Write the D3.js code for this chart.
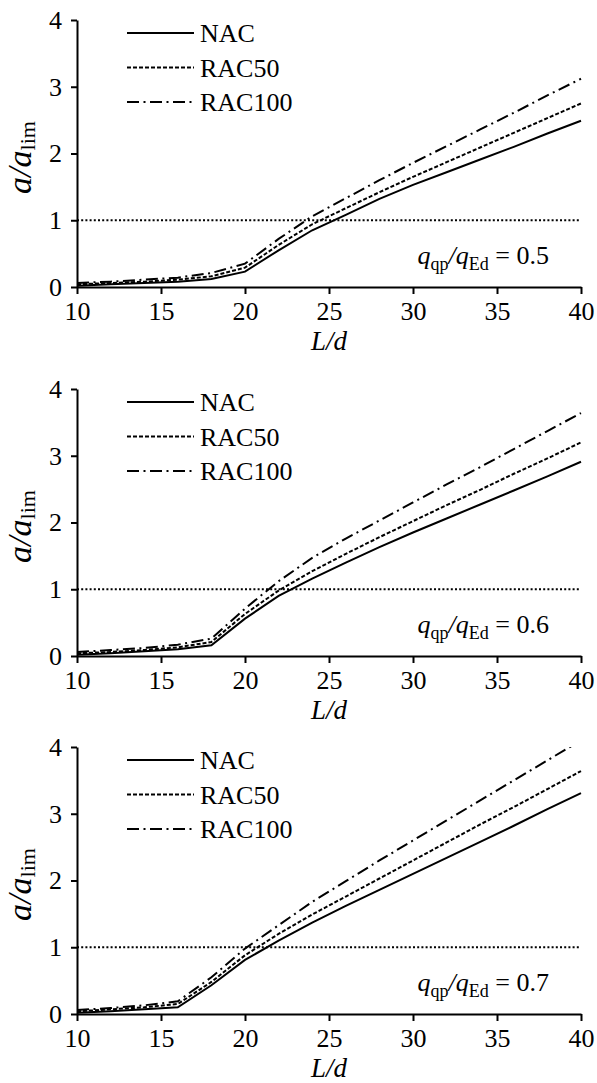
<!DOCTYPE html>
<html>
<head>
<meta charset="utf-8">
<script src="https://cdn.jsdelivr.net/npm/d3@7"></script>
<style>
  body { margin: 0; background: #fff; }
  svg text { font-family: "Liberation Serif", "Times New Roman", serif; fill: #000; }
</style>
</head>
<body>
<svg id="chart" width="597" height="1083"></svg>
<script>
// L/d values (x axis)
const ldValues = [10, 12, 14, 16, 18, 20, 22, 24, 26, 28, 30, 32, 34, 36, 38, 40];

// q_qp/q_Ed = 0.5
const nac05 = [0.02, 0.04, 0.06, 0.08, 0.12, 0.23, 0.55, 0.85, 1.08, 1.32, 1.53, 1.72, 1.91, 2.10, 2.30, 2.49];
const rac50_05 = [0.04, 0.06, 0.08, 0.11, 0.16, 0.29, 0.63, 0.94, 1.18, 1.42, 1.65, 1.87, 2.09, 2.31, 2.53, 2.75];
const rac100_05 = [0.06, 0.08, 0.11, 0.14, 0.21, 0.35, 0.72, 1.06, 1.33, 1.60, 1.86, 2.11, 2.36, 2.61, 2.87, 3.12];

// q_qp/q_Ed = 0.6
const nac06 = [0.02, 0.04, 0.07, 0.10, 0.16, 0.56, 0.90, 1.16, 1.40, 1.63, 1.85, 2.06, 2.27, 2.48, 2.69, 2.91];
const rac50_06 = [0.04, 0.06, 0.09, 0.13, 0.21, 0.63, 0.98, 1.27, 1.53, 1.78, 2.02, 2.26, 2.49, 2.73, 2.96, 3.20];
const rac100_06 = [0.06, 0.09, 0.12, 0.17, 0.26, 0.71, 1.12, 1.47, 1.76, 2.03, 2.30, 2.57, 2.83, 3.10, 3.37, 3.64];

// q_qp/q_Ed = 0.7
const nac07 = [0.02, 0.04, 0.07, 0.10, 0.43, 0.81, 1.10, 1.37, 1.62, 1.86, 2.10, 2.34, 2.58, 2.82, 3.07, 3.31];
const rac50_07 = [0.04, 0.07, 0.10, 0.15, 0.48, 0.88, 1.20, 1.49, 1.76, 2.03, 2.30, 2.57, 2.84, 3.10, 3.37, 3.64];
const rac100_07 = [0.06, 0.09, 0.13, 0.19, 0.55, 0.98, 1.33, 1.68, 1.99, 2.30, 2.60, 2.90, 3.20, 3.50, 3.80, 4.10];

const seriesNames = ["NAC", "RAC50", "RAC100"];
const ratioLabels = ["0.5", "0.6", "0.7"];
const xTicks = [10, 15, 20, 25, 30, 35, 40];
const yTicks = [0, 1, 2, 3, 4];
const limitValue = 1;

const panels = [
  { ratio: ratioLabels[0], series: [nac05, rac50_05, rac100_05], top: 20 },
  { ratio: ratioLabels[1], series: [nac06, rac50_06, rac100_06], top: 389 },
  { ratio: ratioLabels[2], series: [nac07, rac50_07, rac100_07], top: 747 }
];

const dashes = ["none", "4,2", "12,4.5,2,4.5"];

const svg = d3.select("svg#chart");
const left = 77, right = 581, plotHeight = 267;

const x = d3.scaleLinear().domain([10, 40]).range([left, right]);

panels.forEach((p, pi) => {
  const y = d3.scaleLinear().domain([0, 4]).range([p.top + plotHeight, p.top]);
  const g = svg.append("g").attr("class", "panel");

  // clip so lines stop at the top of the axis
  g.append("clipPath")
    .attr("id", "clip" + pi)
    .append("rect")
    .attr("x", left)
    .attr("y", p.top)
    .attr("width", right - left + 2)
    .attr("height", plotHeight + 2);

  // limit line a/alim = 1
  g.append("line")
    .attr("x1", x(10))
    .attr("x2", x(40))
    .attr("y1", y(limitValue))
    .attr("y2", y(limitValue))
    .attr("stroke", "#000")
    .attr("stroke-width", 2)
    .attr("stroke-dasharray", "2,2.2");

  const line = d3.line()
    .x((d, i) => x(ldValues[i]))
    .y((d) => y(d));

  p.series.forEach((s, si) => {
    g.append("path")
      .datum(s)
      .attr("d", line)
      .attr("fill", "none")
      .attr("stroke", "#000")
      .attr("stroke-width", 2)
      .attr("stroke-dasharray", dashes[si])
      .attr("clip-path", "url(#clip" + pi + ")");
  });

  // x axis
  const xAxis = g.append("g")
    .attr("transform", `translate(0,${y(0)})`)
    .call(d3.axisBottom(x).tickValues(xTicks).tickSize(7).tickSizeOuter(0).tickPadding(8));
  xAxis.selectAll("text").style("font-size", "26px").attr("dy", "0.71em");

  // y axis
  const yAxis = g.append("g")
    .attr("transform", `translate(${left},0)`)
    .call(d3.axisLeft(y).tickValues(yTicks).tickFormat(d3.format("d")).tickSize(6).tickSizeOuter(0).tickPadding(9));
  yAxis.selectAll("text").style("font-size", "26px");

  [xAxis, yAxis].forEach((a) => {
    a.select(".domain").attr("stroke-width", 2);
    a.selectAll(".tick line").attr("stroke-width", 2);
    a.attr("font-family", null);
  });

  // axis titles
  g.append("text")
    .attr("x", (left + right) / 2)
    .attr("y", y(0) + 63)
    .attr("text-anchor", "middle")
    .style("font-size", "27px")
    .style("font-style", "italic")
    .text("L/d");

  const yTitle = g.append("text")
    .attr("transform", `translate(31,${p.top + plotHeight / 2 + 4}) rotate(-90)`)
    .attr("text-anchor", "middle")
    .style("font-size", "34px");
  yTitle.append("tspan").style("font-style", "italic").text("a/a");
  yTitle.append("tspan").attr("dy", 4).style("font-size", "22px").text("lim");

  // legend
  seriesNames.forEach((name, si) => {
    const ly = p.top + 13 + si * 34.5;
    g.append("line")
      .attr("x1", 127)
      .attr("x2", 194)
      .attr("y1", ly)
      .attr("y2", ly)
      .attr("stroke", "#000")
      .attr("stroke-width", 2)
      .attr("stroke-dasharray", dashes[si]);
    g.append("text")
      .attr("x", 200)
      .attr("y", ly + 9)
      .style("font-size", "26px")
      .text(name);
  });

  // load ratio note
  const note = g.append("text")
    .attr("x", 549)
    .attr("y", y(0) - 23)
    .attr("text-anchor", "end")
    .style("font-size", "26px");
  note.append("tspan").style("font-style", "italic").text("q");
  note.append("tspan").attr("dy", 6).style("font-size", "18px").text("qp");
  note.append("tspan").attr("dy", -6).style("font-style", "italic").text("/q");
  note.append("tspan").attr("dy", 6).style("font-size", "18px").text("Ed");
  note.append("tspan").attr("dy", -6).text(" = " + p.ratio);
});
</script>
</body>
</html>
